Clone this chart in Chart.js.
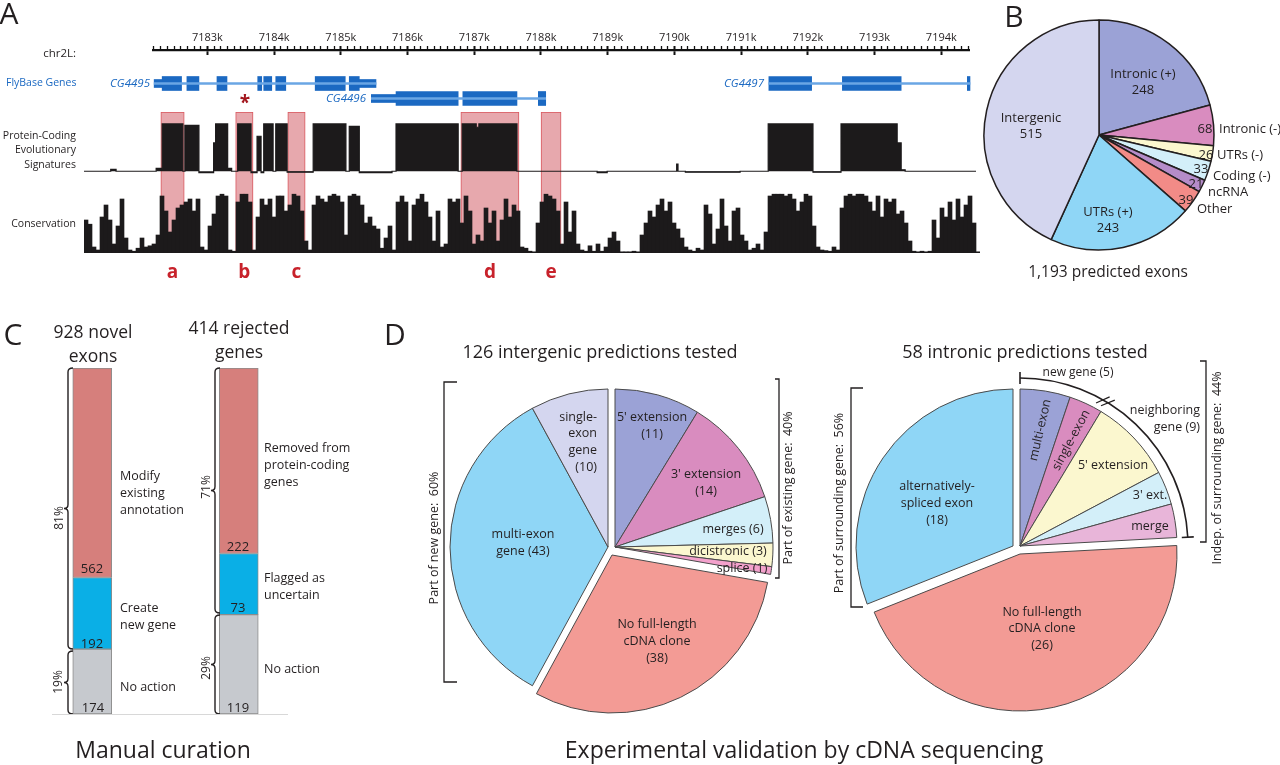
<!DOCTYPE html>
<html>
<head>
<meta charset="utf-8">
<script src="https://cdn.jsdelivr.net/npm/chart.js@4.4.0/dist/chart.umd.min.js"></script>
<style>
  body { margin: 0; background: #fff; }
  #fig { position: relative; width: 1280px; height: 765px; overflow: hidden; font-family: 'Open Sans', sans-serif; color: #231f20; }
  #fig canvas { position: absolute; }
  .t { position: absolute; white-space: pre; }
  #ann { position: absolute; left: 0; top: 0; z-index: 6; }
</style>
</head>
<body>
<div id="fig">
  <svg id="ann" width="1280" height="765" fill="none" stroke="#231f20" stroke-width="1.5"></svg>
</div>
<script>
// PANEL A: genome window, positions in kb
const trackRange = [7181.16, 7194.51];
const rulerRange = [7182.18, 7194.42];

// gene models: [row, start, end]
const cdsParts = [
  [0, 7182.33, 7182.62], [0, 7182.70, 7182.88], [0, 7183.15, 7183.30], [0, 7183.76, 7183.82],
  [0, 7183.85, 7183.97], [0, 7184.03, 7184.18], [0, 7184.62, 7185.07], [0, 7185.13, 7185.28],
  [1, 7185.83, 7186.76], [1, 7186.83, 7187.64], [1, 7187.96, 7188.07],
  [0, 7191.41, 7192.05], [0, 7192.51, 7193.39], [0, 7194.38, 7194.42]
];
const utrParts = [[0, 7182.21, 7182.33], [0, 7185.28, 7185.53], [1, 7185.46, 7185.83]];
const geneSpans = [[0, 7182.21, 7185.53], [1, 7185.46, 7188.07], [0, 7191.41, 7194.42]];

// protein-coding evolutionary signature (step starts, score)
const sigPos = [7181.16, 7181.56, 7181.64, 7182.24, 7182.33, 7182.64, 7182.67, 7182.88, 7183.10, 7183.13,
  7183.31, 7183.37, 7183.46, 7183.66, 7183.75, 7183.81, 7183.85, 7183.99, 7184.03, 7184.20,
  7184.59, 7185.08, 7185.13, 7185.28, 7185.77, 7185.83, 7186.76, 7186.82, 7187.03, 7187.07,
  7187.64, 7188.84, 7188.99, 7190.03, 7190.05, 7190.16, 7190.98, 7191.40, 7192.07, 7192.49,
  7193.33, 7193.39, 7193.45, 7194.51];
const sigVal = [0, 4, 0, 6, 100, 0, 97, -3, 60, 100,
  6, 0, 100, -3, 74, -3, 100, 0, 100, -2,
  100, 0, 95, -3, 0, 100, 0, 100, 93, 100,
  0, -3, 0, 15, 0, -2, 0, 100, -2, 100,
  60, 3, 0, 0];

// conservation, one value per bin across the window
const consVal = [
  55, 48, 10, 5, 60, 80, 55, 15, 45, 90, 25, 5, 3, 8, 25, 10, 12, 15, 30, 95, 70, 35, 55, 75, 80, 85, 90, 70, 90, 10,
  5, 45, 65, 95, 98, 95, 5, 3, 85, 98, 98, 85, 5, 60, 90, 80, 90, 60, 95, 95, 70, 80, 98, 95, 70, 20, 5, 80, 95, 90,
  85, 95, 98, 95, 85, 30, 95, 98, 95, 80, 50, 60, 45, 40,
  8, 25, 45, 5, 85, 95, 85, 20, 80, 90, 98, 85, 60, 20, 70, 10, 15, 90, 85, 90, 50, 95, 70, 15, 30, 20, 75, 50, 70, 20,
  55, 90, 60, 80, 70, 10, 8, 3, 2, 50, 85, 98, 95, 90, 70, 15, 85, 35, 70, 15, 5, 3, 12, 3, 15, 3, 10, 25, 35, 20,
  2, 2, 2, 3, 2, 30, 50, 70, 60, 80, 90, 70, 85, 50, 40,
  25, 10, 5, 3, 8, 5, 80, 65, 15, 40, 90, 45, 20, 70, 75, 30, 20, 5, 8, 15, 5, 35, 95, 98, 98, 98, 95, 98, 90, 70,
  85, 98, 95, 45, 10, 5, 4, 3, 10, 5, 75, 95, 98, 95, 98, 98, 95, 85, 70, 95, 60, 90, 85, 90, 65, 70, 50, 20, 3, 2,
  3, 2, 3, 55, 25, 75, 60, 85, 55, 90, 60, 80, 95, 50, 2
];

// highlighted predictions
const regionNames = ['a', 'b', 'c', 'd', 'e'];
const regionSpans = [[7182.31, 7182.66], [7183.43, 7183.69], [7184.21, 7184.47], [7186.80, 7187.67], [7188.00, 7188.30]];

// PANEL B
const exonClasses = ['Intronic (+)', 'Intronic (-)', 'UTRs (-)', 'Coding (-)', 'ncRNA', 'Other', 'UTRs (+)', 'Intergenic'];
const exonCounts = [248, 68, 26, 33, 21, 39, 243, 515];
const exonColors = ['#9ba2d6', '#d98cbf', '#fbf7cf', '#d3eff9', '#b58cc9', '#f28b87', '#8fd6f6', '#d4d6ef'];

// PANEL C
const curationSets = ['928 novel exons', '414 rejected genes'];
const curationTop = [562, 222];
const curationMid = [192, 73];
const curationLow = [174, 119];

// PANEL D
const interLabels = ["5' extension", "3' extension", 'merges', 'dicistronic', 'splice', 'No full-length cDNA clone', 'multi-exon gene', 'single-exon gene'];
const interCounts = [11, 14, 6, 3, 1, 38, 43, 10];
const interColors = ['#9ba2d6', '#d98cbf', '#d3eff9', '#fbf7cf', '#f3a1cc', '#f39b95', '#8fd6f6', '#d4d6ef'];
const interGroup = [0, 0, 0, 0, 0, 1, 2, 2];

const intronLabels = ['multi-exon', 'single-exon', "5' extension", "3' ext.", 'merge', 'No full-length cDNA clone', 'alternatively-spliced exon'];
const intronCounts = [3, 2, 5, 2, 2, 26, 18];
const intronColors = ['#9ba2d6', '#d98cbf', '#fbf7cf', '#d3eff9', '#e8b5d9', '#f39b95', '#8fd6f6'];
const intronGroup = [0, 0, 0, 0, 0, 1, 2];

const fig = document.getElementById('fig');
const ann = document.getElementById('ann');
Chart.defaults.font.family = "'Open Sans', sans-serif";
Chart.defaults.color = '#231f20';
Chart.defaults.animation = false;
Chart.defaults.responsive = false;
Chart.defaults.plugins.legend.display = false;
Chart.defaults.plugins.tooltip.enabled = false;

function addCanvas(left, top, w, h, z) {
    const c = document.createElement('canvas');
    c.width = w;
    c.height = h;
    c.style.left = left + 'px';
    c.style.top = top + 'px';
    c.style.zIndex = z || 2;
    fig.appendChild(c);
    return c;
}

function txt(s, x, y, o = {}) {
    const d = document.createElement('div');
    const size = o.size || 12.5;
    const lh = o.lh || size * 1.3;
    d.className = 't';
    d.textContent = s;
    d.style.fontSize = size + 'px';
    d.style.lineHeight = lh + 'px';
    d.style.left = x + 'px';
    d.style.zIndex = 7;
    if (o.color) d.style.color = o.color;
    if (o.weight) d.style.fontWeight = o.weight;
    if (o.style) d.style.fontStyle = o.style;
    if (o.rot) {
        d.style.top = y + 'px';
        d.style.textAlign = 'center';
        d.style.transform = `translate(-50%,-50%) rotate(${o.rot}deg)`;
    } else {
        const a = o.align || 'c';
        d.style.top = (y - lh / 2) + 'px';
        d.style.textAlign = a === 'l' ? 'left' : a === 'r' ? 'right' : 'center';
        d.style.transform = `translateX(${a === 'l' ? 0 : a === 'r' ? -100 : -50}%)`;
    }
    fig.appendChild(d);
}

function path(d, w, color) {
    const p = document.createElementNS('http://www.w3.org/2000/svg', 'path');
    p.setAttribute('d', d);
    if (w) p.setAttribute('stroke-width', w);
    if (color) p.setAttribute('stroke', color);
    ann.appendChild(p);
    return p;
}

function brace(x, y1, y2) {
    const m = (y1 + y2) / 2;
    path(`M${x + 5},${y1} Q${x},${y1} ${x},${y1 + 4} L${x},${m - 4} Q${x},${m} ${x - 4},${m} Q${x},${m} ${x},${m + 4} L${x},${y2 - 4} Q${x},${y2} ${x + 5},${y2}`, 1.4);
}

const isMajor = v => Math.abs(v - Math.round(v)) < 1e-6;
const hidden = { display: false };

// ---- A: ruler
new Chart(addCanvas(152, 30, 818, 26), {
    type: 'line',
    data: { datasets: [] },
    options: {
        scales: {
            x: {
                type: 'linear', position: 'top', min: rulerRange[0], max: rulerRange[1],
                ticks: {
                    stepSize: 0.1, autoSkip: false, maxRotation: 0, includeBounds: false, padding: 2,
                    font: { size: 11 }, color: '#231f20',
                    callback: v => isMajor(v) ? Math.round(v) + 'k' : ''
                },
                grid: { drawOnChartArea: false, tickLength: 4, tickColor: '#111', tickWidth: c => isMajor(c.tick.value) ? 2 : 1.3 },
                border: { color: '#111', width: 1.3 },
                afterFit: s => { s.height = 20; }
            },
            xb: {
                type: 'linear', position: 'bottom', min: rulerRange[0], max: rulerRange[1],
                ticks: { stepSize: 1, display: false, includeBounds: false },
                grid: { drawOnChartArea: false, tickLength: 4, tickColor: '#111', tickWidth: 2 },
                border: { color: '#111', width: 1.3 },
                afterFit: s => { s.height = 5; }
            },
            y: hidden
        }
    }
});

// ---- A: gene models
const rowNames = ['r0', 'r1'];
const toBars = list => list.map(p => ({ y: rowNames[p[0]], x: [p[1], p[2]] }));
const GENE_BLUE = '#1b69c2';
new Chart(addCanvas(84, 75.5, 892, 30), {
    type: 'bar',
    data: {
        labels: rowNames,
        datasets: [
            { data: toBars(geneSpans), backgroundColor: '#6aa6e4', barThickness: 2, grouped: false },
            { data: toBars(utrParts), backgroundColor: GENE_BLUE, barThickness: 8, grouped: false },
            { data: toBars(cdsParts), backgroundColor: GENE_BLUE, barThickness: 14, grouped: false }
        ]
    },
    options: {
        indexAxis: 'y',
        scales: { x: { type: 'linear', display: false, min: trackRange[0], max: trackRange[1] }, y: hidden }
    }
});

// ---- A: highlighted regions (behind the tracks)
const regionChart = new Chart(addCanvas(84, 112, 892, 141, 1), {
    type: 'bar',
    data: {
        labels: ['h'],
        datasets: [{
            data: regionSpans.map(r => ({ y: 'h', x: r })),
            backgroundColor: '#e7a8ad', borderColor: '#d9575e', borderWidth: 1, borderSkipped: false,
            barPercentage: 1, categoryPercentage: 1, grouped: false
        }]
    },
    options: {
        indexAxis: 'y',
        scales: { x: { type: 'linear', display: false, min: trackRange[0], max: trackRange[1] }, y: hidden }
    }
});

// ---- A: signature track (each value holds until the next position)
new Chart(addCanvas(84, 123, 892, 53), {
    type: 'line',
    data: {
        datasets: [{
            data: sigPos.map((x, i) => ({ x, y: sigVal[i] })),
            stepped: 'before', fill: 'origin',
            backgroundColor: '#1c1a1b', borderColor: '#1c1a1b', borderWidth: 1.2, pointRadius: 0
        }]
    },
    options: {
        scales: {
            x: { type: 'linear', display: false, min: trackRange[0], max: trackRange[1] },
            y: { display: false, min: -10, max: 102 }
        }
    }
});

// ---- A: conservation track
new Chart(addCanvas(84, 193, 896, 60), {
    type: 'bar',
    data: {
        labels: consVal.map((v, i) => i),
        datasets: [{ data: consVal, backgroundColor: '#1c1a1b', barPercentage: 1, categoryPercentage: 1 }]
    },
    options: { scales: { x: hidden, y: { display: false, min: 0, max: 100 } } }
});

// ---- B
new Chart(addCanvas(979, 15, 240, 240), {
    type: 'pie',
    data: { labels: exonClasses, datasets: [{ data: exonCounts, backgroundColor: exonColors, borderColor: '#231f20', borderWidth: 1.5 }] },
    options: { radius: 115 }
});

// ---- C: shares of each set, stacked to 100%
const totals = curationTop.map((v, i) => v + curationMid[i] + curationLow[i]);
const share = arr => arr.map((v, i) => v / totals[i] * 100);
new Chart(addCanvas(19, 368, 293, 346), {
    type: 'bar',
    data: {
        labels: curationSets,
        datasets: [
            { data: share(curationLow), backgroundColor: '#c6c9ce' },
            { data: share(curationMid), backgroundColor: '#0aafe6' },
            { data: share(curationTop), backgroundColor: '#d67f7c' }
        ].map(d => Object.assign(d, { barThickness: 39, borderColor: '#8c8c8c', borderWidth: 1, borderSkipped: false }))
    },
    options: { scales: { x: { display: false, stacked: true }, y: { display: false, stacked: true, min: 0, max: 100 } } }
});

// ---- D: each group drawn on its own canvas so it can be pulled out
function pieGroup(cx, cy, r, labels, counts, colors, groups, g) {
    new Chart(addCanvas(cx - 170, cy - 170, 340, 340), {
        type: 'pie',
        data: {
            labels: labels,
            datasets: [{
                data: counts,
                backgroundColor: colors.map((c, i) => groups[i] === g ? c : 'rgba(0,0,0,0)'),
                borderColor: groups.map(k => k === g ? '#4a4a4a' : 'rgba(0,0,0,0)'),
                borderWidth: 1
            }]
        },
        options: { radius: r }
    });
}
pieGroup(615, 547, 158, interLabels, interCounts, interColors, interGroup, 0);
pieGroup(612, 555, 158, interLabels, interCounts, interColors, interGroup, 1);
pieGroup(608, 547, 158, interLabels, interCounts, interColors, interGroup, 2);
pieGroup(1020, 546, 157, intronLabels, intronCounts, intronColors, intronGroup, 0);
pieGroup(1020, 554, 157, intronLabels, intronCounts, intronColors, intronGroup, 1);
pieGroup(1013, 546, 157, intronLabels, intronCounts, intronColors, intronGroup, 2);

// ---- TEXT: panel A
txt('A', 9, 12, { size: 30 });
txt('chr2L:', 76, 53, { size: 11.5, align: 'r' });
txt('FlyBase Genes', 6, 83, { size: 10.5, align: 'l', color: GENE_BLUE });
txt('CG4495', 150, 83, { size: 11.5, align: 'r', style: 'italic', color: GENE_BLUE });
txt('CG4496', 366, 98, { size: 11.5, align: 'r', style: 'italic', color: GENE_BLUE });
txt('CG4497', 764, 83, { size: 11.5, align: 'r', style: 'italic', color: GENE_BLUE });
txt('Protein-Coding\nEvolutionary\nSignatures', 76, 135, { size: 10.5, align: 'r', lh: 14.7 });
txt('Conservation', 76, 224, { size: 10.5, align: 'r' });
txt('*', 245, 102, { size: 19, weight: 'bold', color: '#a3171e' });
const rx = regionChart.scales.x;
regionSpans.forEach((r, i) => {
    txt(regionNames[i], 84 + rx.getPixelForValue((r[0] + r[1]) / 2), 271, { size: 19, weight: 'bold', color: '#c8222b' });
});

// panel B
txt('B', 1014, 15, { size: 30 });
txt('Intronic (+)\n248', 1143, 73, { size: 13, lh: 16.5 });
txt('Intergenic\n515', 1031, 117, { size: 13, lh: 16.5 });
txt('UTRs (+)\n243', 1108, 211, { size: 13, lh: 16.5 });
txt('68', 1205, 128, { size: 13 });
txt('Intronic (-)', 1219, 128, { size: 13, align: 'l' });
txt('26', 1206, 154, { size: 13 });
txt('UTRs (-)', 1217, 154, { size: 13, align: 'l' });
txt('33', 1201, 168, { size: 13 });
txt('Coding (-)', 1213, 175, { size: 13, align: 'l' });
txt('21', 1196, 183, { size: 13 });
txt('ncRNA', 1208, 191, { size: 13, align: 'l' });
txt('39', 1186, 199, { size: 13 });
txt('Other', 1197, 208, { size: 13, align: 'l' });
txt('1,193 predicted exons', 1108, 271, { size: 15.5 });

// panel C
txt('C', 13, 333, { size: 30 });
txt('928 novel\nexons', 93, 331, { size: 17.5, lh: 24 });
txt('414 rejected\ngenes', 239, 327, { size: 17.5, lh: 24 });
txt('562', 92, 568, { size: 13 });
txt('192', 92, 643, { size: 13 });
txt('174', 93, 707, { size: 13 });
txt('222', 238, 546, { size: 13 });
txt('73', 238, 607, { size: 13 });
txt('119', 238, 707, { size: 13 });
txt('Modify\nexisting\nannotation', 120, 475, { size: 12.5, align: 'l', lh: 17 });
txt('Create\nnew gene', 120, 607, { size: 12.5, align: 'l', lh: 17 });
txt('No action', 120, 687, { size: 12.5, align: 'l' });
txt('Removed from\nprotein-coding\ngenes', 264, 447, { size: 12.5, align: 'l', lh: 17 });
txt('Flagged as\nuncertain', 264, 577, { size: 12.5, align: 'l', lh: 17 });
txt('No action', 264, 669, { size: 12.5, align: 'l' });
txt('81%', 59, 518, { size: 12, rot: -90 });
txt('19%', 58, 682, { size: 12, rot: -90 });
txt('71%', 206, 487, { size: 12, rot: -90 });
txt('29%', 206, 668, { size: 12, rot: -90 });
txt('Manual curation', 163, 750, { size: 23 });
brace(68, 368, 649);
brace(68, 651, 714);
brace(215, 368, 613);
brace(215, 615, 714);
path('M52,714.5 L288,714.5', 1, '#d8d8d8');

// panel D
txt('D', 395, 333, { size: 30 });
txt('126 intergenic predictions tested', 600, 352, { size: 18 });
txt('single-\nexon\ngene\n(10)', 597, 417, { size: 12.5, align: 'r', lh: 16.8 });
txt("5' extension\n(11)", 652, 416, { size: 12.5, lh: 17 });
txt("3' extension\n(14)", 706, 473, { size: 12.5, lh: 17 });
txt('merges (6)', 733, 529, { size: 12.5 });
txt('dicistronic (3)', 728, 551, { size: 12.5 });
txt('splice (1)', 742, 568, { size: 12.5 });
txt('multi-exon\ngene (43)', 523, 533, { size: 12.5, lh: 17 });
txt('No full-length\ncDNA clone\n(38)', 657, 623, { size: 12.5, lh: 17 });
txt('Part of new gene:  60%', 434, 538, { size: 12.5, rot: -90 });
txt('Part of existing gene:  40%', 788, 488, { size: 12.5, rot: -90 });
path('M457,382 L444,382 L444,682 L457,682', 1.3);
path('M775,379 L779,379 L779,578 L775,578', 1.3);

txt('58 intronic predictions tested', 1025, 352, { size: 18 });
txt('new gene (5)', 1078, 372, { size: 12 });
txt('neighboring\ngene (9)', 1200, 409, { size: 12.5, align: 'r', lh: 17 });
txt('multi-exon', 1040, 430, { size: 12.5, rot: -77 });
txt('single-exon', 1071, 440, { size: 12.5, rot: -62 });
txt("5' extension", 1113, 465, { size: 12.5 });
txt("3' ext.", 1150, 495, { size: 12.5 });
txt('merge', 1150, 526, { size: 12.5 });
txt('alternatively-\nspliced exon\n(18)', 937, 485, { size: 12.5, lh: 17 });
txt('No full-length\ncDNA clone\n(26)', 1042, 612, { size: 12.5, lh: 16.5 });
txt('Part of surrounding gene:  56%', 839, 503, { size: 12.5, rot: -90 });
txt('Indep. of surrounding gene:  44%', 1217, 468, { size: 12.5, rot: -90 });
path('M863,388 L851,388 L851,607 L863,607', 1.3);
path('M1200,361 L1206,361 L1206,542 L1200,542', 1.3);
// arc over the new gene / neighbouring gene slices
const ARC_R = 168, acx = 1020, acy = 546;
const pt = (deg, r) => [acx + r * Math.sin(deg * Math.PI / 180), acy - r * Math.cos(deg * Math.PI / 180)];
const aEnd = pt(87, ARC_R);
path(`M${acx},${acy - ARC_R} A${ARC_R},${ARC_R} 0 0 1 ${aEnd[0]},${aEnd[1]}`, 1.6);
path(`M${acx},${acy - ARC_R - 6} L${acx},${acy - ARC_R + 6}`, 1.6);
const e1 = pt(87, ARC_R - 6), e2 = pt(87, ARC_R + 6);
path(`M${e1[0]},${e1[1]} L${e2[0]},${e2[1]}`, 1.6);
[29.5, 31.5].forEach(a => {
    const p1 = pt(a - 1.5, ARC_R - 6), p2 = pt(a + 1.5, ARC_R + 6);
    path(`M${p1[0]},${p1[1]} L${p2[0]},${p2[1]}`, 1.2);
});

txt('Experimental validation by cDNA sequencing', 804, 750, { size: 23 });
</script>
</body>
</html>
